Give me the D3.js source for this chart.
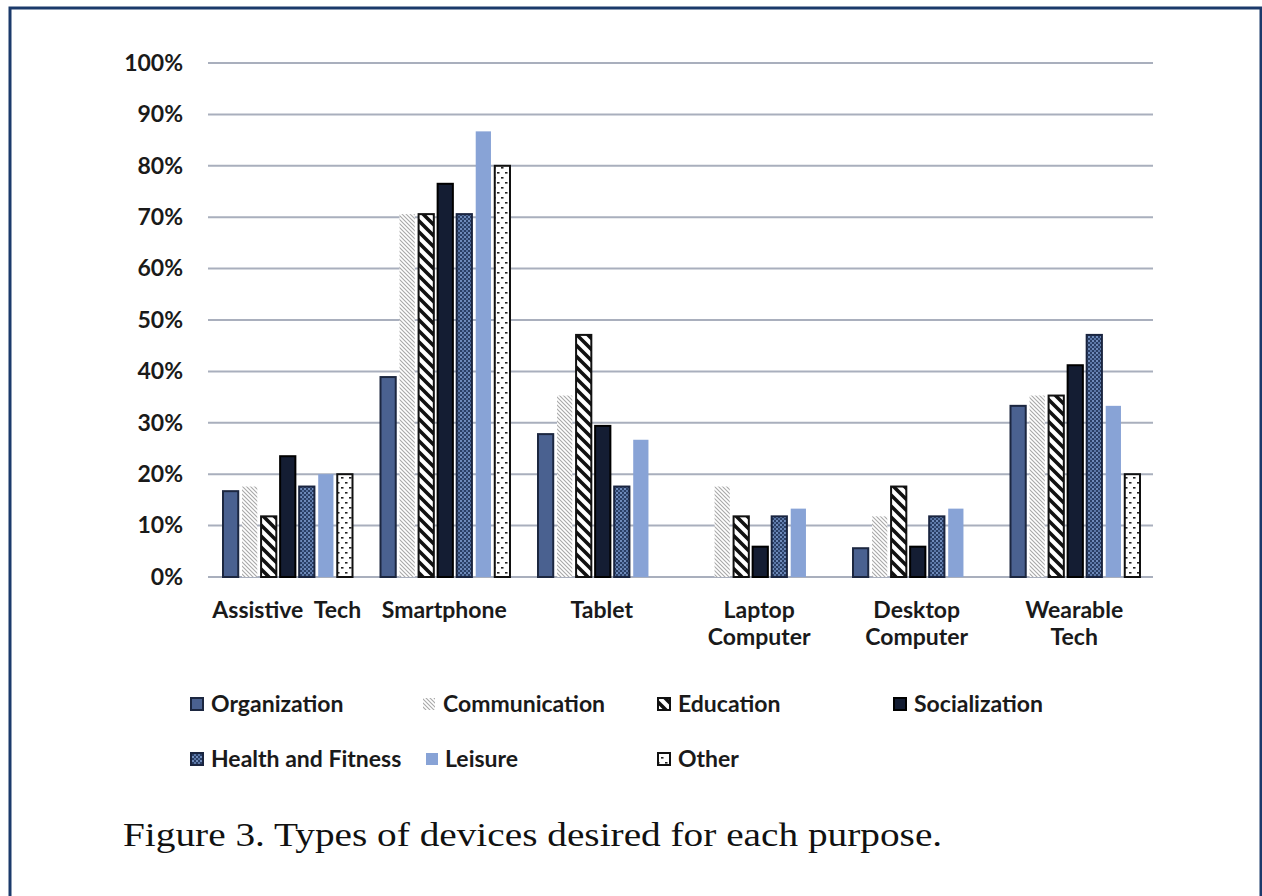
<!DOCTYPE html>
<html>
<head>
<meta charset="utf-8">
<script src="https://cdn.jsdelivr.net/npm/d3@7"></script>
<style>
  html, body { margin: 0; padding: 0; background: #fff; }
  svg { display: block; }
</style>
</head>
<body>
<svg id="chart" width="1262" height="896"></svg>
<script>
// ---- data ----
const categories = ["Assistive  Tech", "Smartphone", "Tablet", "Laptop\nComputer", "Desktop\nComputer", "Wearable\nTech"];
const seriesNames = ["Organization", "Communication", "Education", "Socialization", "Health and Fitness", "Leisure", "Other"];
const organization  = [16.7, 38.9, 27.8, 0,    5.6,  33.3];
const communication = [17.6, 70.6, 35.3, 17.6, 11.8, 35.3];
const education     = [11.8, 70.6, 47.1, 11.8, 17.6, 35.3];
const socialization = [23.5, 76.5, 29.4, 5.9,  5.9,  41.2];
const health        = [17.6, 70.6, 17.6, 11.8, 11.8, 47.1];
const leisure       = [20.0, 86.7, 26.7, 13.3, 13.3, 33.3];
const other         = [20.0, 80.0, 0,    0,    0,    20.0];
const yTicks = [0, 10, 20, 30, 40, 50, 60, 70, 80, 90, 100];
const caption = "Figure 3. Types of devices desired for each purpose.";

const seriesValues = [organization, communication, education, socialization, health, leisure, other];

(function () {
// ---- layout ----
const svg = d3.select("#chart");
const pLeft = 208, pRight = 1153, pTop = 63, pBottom = 577;
const font = "Lato, 'Open Sans', sans-serif";
const fs = 23;

// frame
svg.append("path")
  .attr("d", "M10,900 L10,8 L1261,8 L1261,900")
  .attr("fill", "none").attr("stroke", "#1b3a6b").attr("stroke-width", 3);

// patterns
const defs = svg.append("defs");
let p = defs.append("pattern").attr("id", "pComm").attr("patternUnits", "userSpaceOnUse").attr("width", 4).attr("height", 4);
p.append("rect").attr("width", 4).attr("height", 4).attr("fill", "#fff");
p.append("path").attr("d", "M0,0 L4,4 M-1,3 L1,5 M3,-1 L5,1").attr("stroke", "#a8a8a8").attr("stroke-width", 1.1);

p = defs.append("pattern").attr("id", "pEdu").attr("patternUnits", "userSpaceOnUse").attr("width", 11).attr("height", 11);
p.append("rect").attr("width", 11).attr("height", 11).attr("fill", "#fff");
p.append("path").attr("d", "M0,0 L11,11 M-3,8 L3,14 M8,-3 L14,3").attr("stroke", "#111").attr("stroke-width", 3.6);

p = defs.append("pattern").attr("id", "pHealth").attr("patternUnits", "userSpaceOnUse").attr("width", 4).attr("height", 4);
p.append("rect").attr("width", 4).attr("height", 4).attr("fill", "#2a3f66");
p.append("rect").attr("width", 2).attr("height", 2).attr("fill", "#6f8bbb");
p.append("rect").attr("x", 2).attr("y", 2).attr("width", 2).attr("height", 2).attr("fill", "#5a76a6");

p = defs.append("pattern").attr("id", "pOther").attr("patternUnits", "userSpaceOnUse").attr("width", 8).attr("height", 10);
p.append("rect").attr("width", 8).attr("height", 10).attr("fill", "#fff");
p.append("rect").attr("x", 1).attr("y", 2).attr("width", 2.5).attr("height", 1.6).attr("fill", "#222");
p.append("rect").attr("x", 5).attr("y", 7).attr("width", 2.5).attr("height", 1.6).attr("fill", "#222");

const fills   = ["#4a6190", "url(#pComm)", "url(#pEdu)", "#141d33", "url(#pHealth)", "#88a3d6", "url(#pOther)"];
const strokes = ["#1c2740", "none", "#111", "#000", "#1a2540", "none", "#111"];

// scales
const x0 = d3.scaleBand().domain(d3.range(categories.length)).range([pLeft, pRight]).padding(0);
const x1 = d3.scaleBand().domain(d3.range(seriesNames.length))
  .range([15, x0.bandwidth() - 13]).paddingInner(0.2).paddingOuter(0);
const y = d3.scaleLinear().domain([0, 100]).range([pBottom, pTop]);

// gridlines
svg.append("g").selectAll("line").data(yTicks).join("line")
  .attr("x1", pLeft).attr("x2", pRight)
  .attr("y1", d => y(d)).attr("y2", d => y(d))
  .attr("stroke", "#a9afbd").attr("stroke-width", 2);

// y axis labels
const yAxis = d3.axisLeft(y).tickValues(yTicks).tickFormat(d => d + "%").tickSize(0).tickPadding(0);
const ya = svg.append("g").attr("transform", `translate(${pLeft - 25},0)`).call(yAxis);
ya.select(".domain").remove();
ya.selectAll("text").attr("font-family", font).attr("font-weight", "bold")
  .attr("font-size", fs).attr("fill", "#1a1a1a");

// bars
const barData = [];
seriesValues.forEach((vals, s) => vals.forEach((v, c) => { if (v > 0) barData.push({ s, c, v }); }));
svg.append("g").selectAll("rect").data(barData).join("rect")
  .attr("x", d => x0(d.c) + x1(d.s))
  .attr("width", x1.bandwidth())
  .attr("y", d => y(d.v))
  .attr("height", d => y(0) - y(d.v))
  .attr("fill", d => fills[d.s])
  .attr("stroke", d => strokes[d.s])
  .attr("stroke-width", 2);

// category labels
const xa = svg.append("g");
categories.forEach((c, i) => {
  const cx = x0(i) + x0.bandwidth() / 2;
  const t = xa.append("text")
    .attr("x", cx).attr("y", 618)
    .attr("text-anchor", "middle")
    .attr("font-family", font).attr("font-weight", "bold").attr("font-size", fs)
    .attr("fill", "#1a1a1a").style("white-space", "pre");
  c.split("\n").forEach((line, j) => {
    t.append("tspan").attr("x", cx).attr("dy", j === 0 ? 0 : 27).text(line);
  });
});

// legend
const legendIconX = [190, 422, 657, 893, 190, 425, 657];
const legendRow = [0, 0, 0, 0, 1, 1, 1];
const lg = svg.append("g");
seriesNames.forEach((name, i) => {
  const gx = legendIconX[i], base = 712 + legendRow[i] * 55;
  lg.append("rect").attr("x", gx + 1).attr("y", base - 14).attr("width", 12).attr("height", 12)
    .attr("fill", fills[i]).attr("stroke", strokes[i] === "none" ? "none" : strokes[i]).attr("stroke-width", 2);
  lg.append("text").attr("x", gx + (i === 5 ? 20 : 21)).attr("y", base)
    .attr("font-family", font).attr("font-weight", "bold").attr("font-size", fs)
    .attr("fill", "#1a1a1a").text(name);
});

// caption (horizontally widened serif, as in the reference)
svg.append("g").attr("transform", "translate(123,846) scale(1.156,1)")
  .append("text")
  .attr("font-family", "'Liberation Serif', 'Times New Roman', serif")
  .attr("font-size", 34).attr("fill", "#111")
  .text(caption);
})();
</script>
</body>
</html>
